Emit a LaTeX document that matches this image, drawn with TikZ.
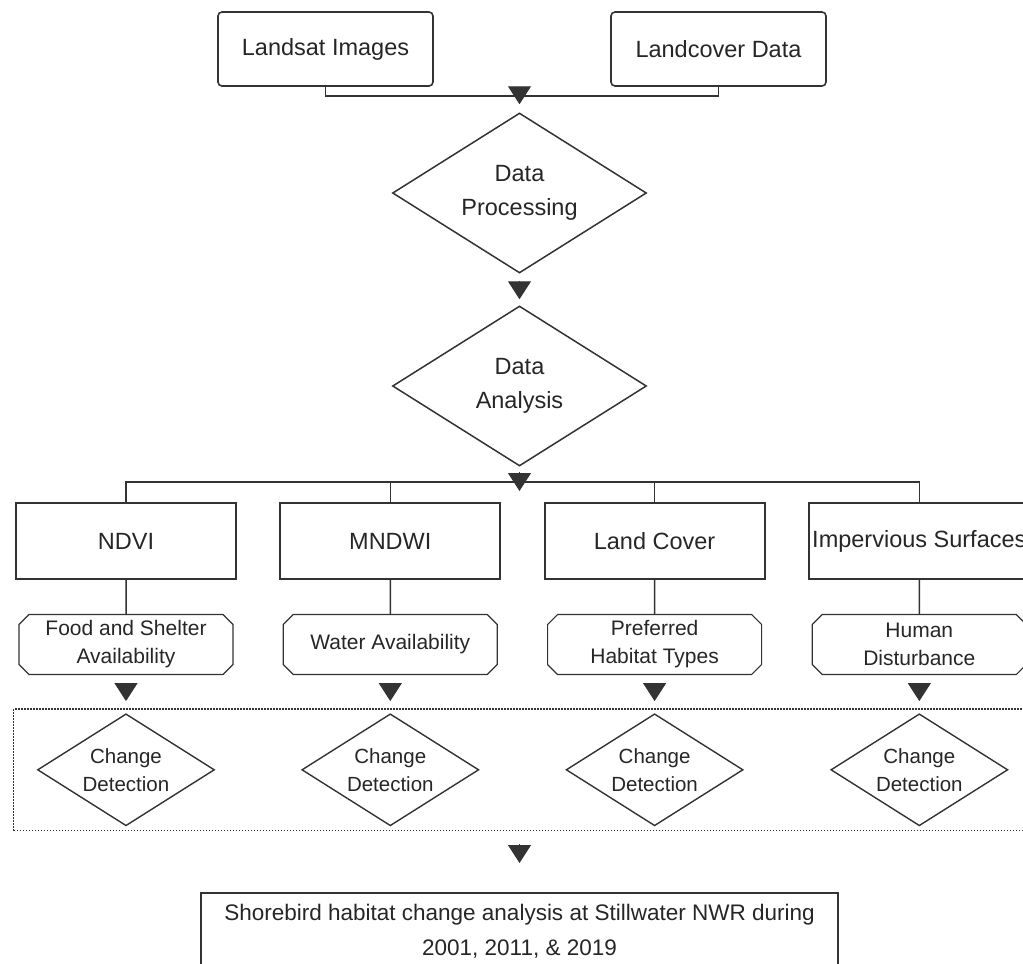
\documentclass[tikz,border=0pt]{standalone}
\usepackage{fontspec}
\setmainfont{Liberation Sans}
\usepackage{tikz}
\usetikzlibrary{positioning,arrows.meta,shapes.geometric,shapes.misc,fit}

\definecolor{ink}{HTML}{333333}

\begin{document}
\begin{tikzpicture}[
    x=1pt, y=1pt,
    node distance=40pt,
    every node/.style={align=center, text=black!85},
    topbox/.style={
        draw=ink,
        line width=1.6pt,
        rounded corners=4pt,
        minimum width=215pt,
        minimum height=74pt,
        font=\fontsize{23.5}{28}\selectfont
    },
    decision/.style={
        diamond,
        draw=ink,
        line width=1.5pt,
        aspect=1.6,
        inner sep=0pt,
        minimum width=254pt,
        minimum height=160pt,
        font=\fontsize{23.5}{34}\selectfont
    },
    layer/.style={
        draw=ink,
        line width=1.8pt,
        minimum width=220pt,
        minimum height=76pt,
        font=\fontsize{23.5}{28}\selectfont
    },
    theme/.style={
        chamfered rectangle,
        chamfered rectangle xsep=5pt,
        chamfered rectangle ysep=5pt,
        draw=ink,
        line width=1.2pt,
        inner sep=0pt,
        minimum width=214pt,
        minimum height=60pt,
        font=\fontsize{21}{28}\selectfont
    },
    detect/.style={
        diamond,
        draw=ink,
        line width=1.4pt,
        aspect=1.6,
        inner sep=0pt,
        minimum width=177pt,
        minimum height=112pt,
        font=\fontsize{20.5}{28}\selectfont
    },
    group/.style={
        draw=ink,
        line width=1.3pt,
        dash pattern=on 1.3pt off 1.7pt,
        inner xsep=23pt,
        inner ysep=4pt
    },
    result/.style={
        draw=ink,
        line width=1.8pt,
        minimum width=637pt,
        minimum height=76pt,
        font=\fontsize{22.5}{35}\selectfont
    },
    link/.style={
        draw=ink,
        line width=1.5pt
    },
    flow/.style={
        -{Triangle[length=18pt,width=23pt]},
        draw=ink,
        fill=ink,
        line width=1pt
    }
]

\useasboundingbox (0,0) rectangle (1023,-964);
\clip (0,0) rectangle (1023,-964);

\node[topbox] (landsat) at (325.5,-49) {Landsat Images};
\node[topbox, right=176.4pt of landsat] (landcover) {Landcover Data};

\coordinate (merge) at (519.5,-96);

\node[decision] (proc) at (519.5,-193) {Data\\Processing};
\node[decision, below=31.5pt of proc] (anal) {Data\\Analysis};

\coordinate (bus) at (519.5,-482);

\node[layer] (ndvi) at (126,-541) {NDVI};
\node[layer, right=42.5pt of ndvi] (mndwi) {MNDWI};
\node[layer, right=42.5pt of mndwi] (landc) {Land Cover};
\node[layer, right=42.5pt of landc] (imperv) {Impervious Surfaces};

\node[theme, below=34pt of ndvi] (food) {Food and Shelter\\Availability};
\node[theme, below=34pt of mndwi] (water) {Water Availability};
\node[theme, below=34pt of landc] (habitat) {Preferred\\Habitat Types};
\node[theme, below=34pt of imperv] (human) {Human\\Disturbance};

\node[detect, below=38pt of food] (cd1) {Change\\Detection};
\node[detect, below=38pt of water] (cd2) {Change\\Detection};
\node[detect, below=38pt of habitat] (cd3) {Change\\Detection};
\node[detect, below=38pt of human] (cd4) {Change\\Detection};

\node[group, fit=(cd1)(cd4)] (grp) {};

\node[result, anchor=north] (result) at (519.5,-892)
    {Shorebird habitat change analysis at Stillwater NWR during\\2001, 2011, \& 2019};

% inputs
\draw[link] (landsat.south) |- (merge) -| (landcover.south);
\draw[flow, shorten >=8pt] (merge) -- (proc.north);
\draw[flow, shorten <=7pt, shorten >=6pt] (proc.south) -- (anal.north);
\draw[flow, shorten <=5pt, shorten >=-9pt] (anal.south) -- (bus);

% split into indices
\draw[link] (ndvi.north) |- (bus) -| (imperv.north);
\draw[link] (mndwi.north) -- (mndwi.north |- bus);
\draw[link] (landc.north) -- (landc.north |- bus);

\draw[link] (ndvi) -- (food);
\draw[link] (mndwi) -- (water);
\draw[link] (landc) -- (habitat);
\draw[link] (imperv) -- (human);

\draw[flow, shorten <=9pt, shorten >=12pt] (food.south) -- (cd1.north);
\draw[flow, shorten <=9pt, shorten >=12pt] (water.south) -- (cd2.north);
\draw[flow, shorten <=9pt, shorten >=12pt] (habitat.south) -- (cd3.north);
\draw[flow, shorten <=9pt, shorten >=12pt] (human.south) -- (cd4.north);

\draw[flow, shorten <=13pt, shorten >=29pt] (result.north |- grp.south) -- (result.north);

\end{tikzpicture}
\end{document}
